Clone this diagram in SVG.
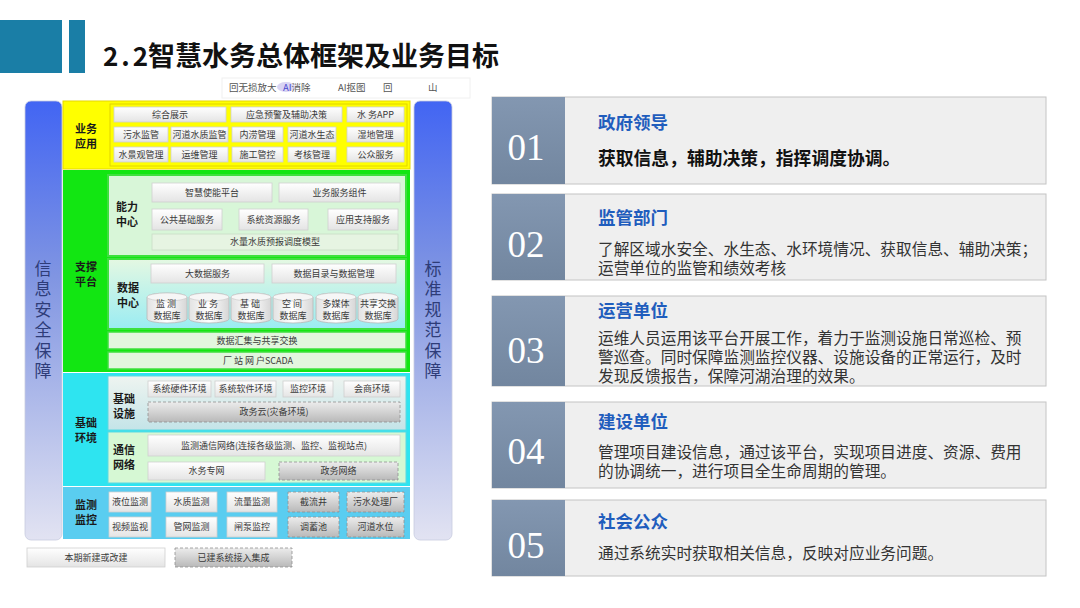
<svg xmlns="http://www.w3.org/2000/svg" width="1080" height="608" viewBox="0 0 1080 608">
<defs>
<linearGradient id="gW" x1="0" y1="0" x2="0" y2="1"><stop offset="0" stop-color="#ffffff"/><stop offset="1" stop-color="#e4e4e4"/></linearGradient>
<linearGradient id="gG" x1="0" y1="0" x2="0" y2="1"><stop offset="0" stop-color="#ececec"/><stop offset="1" stop-color="#b9b9b9"/></linearGradient>
<linearGradient id="gBar" x1="0" y1="0" x2="0" y2="1"><stop offset="0" stop-color="#4265f3"/><stop offset="0.4" stop-color="#8095e2"/><stop offset="1" stop-color="#e2e3f2"/></linearGradient>
<linearGradient id="gData" x1="0" y1="0" x2="0" y2="1"><stop offset="0" stop-color="#e4f8e2"/><stop offset="1" stop-color="#9aecf2"/></linearGradient>
<linearGradient id="gInfra" x1="0" y1="0" x2="0" y2="1"><stop offset="0" stop-color="#eef4f0"/><stop offset="1" stop-color="#c4e4e8"/></linearGradient>
<linearGradient id="gCyl" x1="0" y1="0" x2="1" y2="0"><stop offset="0" stop-color="#e2e2e2"/><stop offset="0.5" stop-color="#ffffff"/><stop offset="1" stop-color="#d6d6d6"/></linearGradient>
<linearGradient id="gSlate" x1="0" y1="0" x2="0" y2="1"><stop offset="0" stop-color="#8397b1"/><stop offset="1" stop-color="#72869f"/></linearGradient>
<style>
.cjk{font-family:"Noto Sans CJK SC","Liberation Sans",sans-serif}
.wb{fill:url(#gW);stroke:#cfcfcf;stroke-width:0.8}
.gb{fill:url(#gG);stroke:#8f8f8f;stroke-width:0.8;stroke-dasharray:3 2}
.t9{font-family:"Noto Sans CJK SC","Liberation Sans",sans-serif;font-size:9px;fill:#3a3a3a;text-anchor:middle}
.lab{font-family:"Noto Sans CJK SC","Liberation Sans",sans-serif;font-size:11px;fill:#1a1a1a;font-weight:700;text-anchor:middle}
.sub{font-family:"Noto Sans CJK SC","Liberation Sans",sans-serif;font-size:11px;fill:#1a1a1a;font-weight:700}
.vt{font-family:"Noto Sans CJK SC","Liberation Sans",sans-serif;font-size:17px;fill:#2e3c78;writing-mode:vertical-rl;letter-spacing:3.4px}
.pan{fill:#efefef;stroke:#c4c4c4;stroke-width:1}
.num{font-family:"Liberation Serif",serif;font-size:37px;fill:#ffffff;text-anchor:middle}
.ptit{font-family:"Noto Sans CJK SC","Liberation Sans",sans-serif;font-size:17.5px;fill:#1f5dbd;font-weight:700}
.pbody{font-family:"Noto Sans CJK SC","Liberation Sans",sans-serif;font-size:15.7px;fill:#333333}
.tb{font-family:"Noto Sans CJK SC","Liberation Sans",sans-serif;font-size:9.5px;fill:#555555}
.cyl{fill:url(#gCyl);stroke:#b8b8b8;stroke-width:0.8}
</style>
</defs>
<rect width="1080" height="608" fill="#ffffff"/>

<g id="header">
<rect x="0" y="20" width="62" height="53" fill="#1a7ea6"/>
<rect x="69" y="20" width="16" height="53" fill="#1a7ea6"/>
<text x="103" y="66" class="cjk" font-size="26" font-weight="700" fill="#111111"><tspan letter-spacing="3">2.2</tspan><tspan x="148" font-size="27">智慧水务总体框架及业务目标</tspan></text>
</g>

<g id="toolbar">
<rect x="222" y="78" width="248" height="20" fill="#ffffff" stroke="#f0f0f0"/>
<text x="229" y="91" class="tb">回无损放大</text>
<ellipse cx="286" cy="87" rx="9" ry="5" fill="#c9c2ee" opacity="0.7"/>
<text x="283" y="91" class="tb"><tspan fill="#4a4ad0">AI</tspan>消除</text>
<text x="338" y="91" class="tb">AI抠图</text>
<text x="383" y="91" class="tb">回</text>
<text x="428" y="91" class="tb">山</text>
</g>

<g id="bar-left">
<rect x="25" y="101" width="37" height="439" rx="6" fill="url(#gBar)" stroke="#c8cbe0" stroke-width="0.8"/>
<text x="43" y="260" class="vt">信息安全保障</text>
</g>
<g id="bar-right">
<rect x="414" y="101" width="38" height="439" rx="6" fill="url(#gBar)" stroke="#c8cbe0" stroke-width="0.8"/>
<text x="433" y="260" class="vt">标准规范保障</text>
</g>

<g id="layer-app">
<rect x="63" y="101" width="347" height="68" fill="#ffff00" stroke="#e6d800" stroke-width="1"/>
<rect x="110" y="104" width="297" height="62" fill="#ffff00" stroke="#e2d400" stroke-width="1"/>
<text class="lab"><tspan x="86" y="133">业务</tspan><tspan x="86" y="148">应用</tspan></text>
<rect x="114" y="107" width="112" height="15" class="wb"/><text x="170" y="117.5" class="t9">综合展示</text>
<rect x="231" y="107" width="111" height="15" class="wb"/><text x="286.5" y="117.5" class="t9">应急预警及辅助决策</text>
<rect x="347" y="107" width="57" height="15" class="wb"/><text x="375.5" y="117.5" class="t9" font-size="7.5">水 务APP</text>
<rect x="114" y="127" width="54" height="15" class="wb"/><text x="141" y="137.5" class="t9">污水监管</text>
<rect x="171" y="127" width="57" height="15" class="wb"/><text x="199.5" y="137.5" class="t9">河道水质监管</text>
<rect x="232" y="127" width="51" height="15" class="wb"/><text x="257.5" y="137.5" class="t9">内涝管理</text>
<rect x="288" y="127" width="48" height="15" class="wb"/><text x="312" y="137.5" class="t9">河道水生态</text>
<rect x="347" y="127" width="57" height="15" class="wb"/><text x="375.5" y="137.5" class="t9">湿地管理</text>
<rect x="114" y="147" width="54" height="15" class="wb"/><text x="141" y="157.5" class="t9">水景观管理</text>
<rect x="171" y="147" width="57" height="15" class="wb"/><text x="199.5" y="157.5" class="t9">运维管理</text>
<rect x="232" y="147" width="51" height="15" class="wb"/><text x="257.5" y="157.5" class="t9">施工管控</text>
<rect x="288" y="147" width="48" height="15" class="wb"/><text x="312" y="157.5" class="t9">考核管理</text>
<rect x="347" y="147" width="57" height="15" class="wb"/><text x="375.5" y="157.5" class="t9">公众服务</text>
</g>

<g id="layer-support">
<rect x="63" y="170" width="347" height="202" fill="#12e612"/>
<text class="lab"><tspan x="86" y="271">支撑</tspan><tspan x="86" y="286">平台</tspan></text>
<g id="capability">
<rect x="108" y="175" width="298" height="81" fill="#d8f6d8" stroke="#3ee03e" stroke-width="2"/>
<text class="sub"><tspan x="116" y="211">能力</tspan><tspan x="116" y="226">中心</tspan></text>
<rect x="152" y="183" width="120" height="19" class="wb"/><text x="212" y="195.5" class="t9">智慧使能平台</text>
<rect x="279" y="183" width="121" height="19" class="wb"/><text x="339.5" y="195.5" class="t9">业务服务组件</text>
<rect x="152" y="209" width="70" height="21" class="wb"/><text x="187" y="222.5" class="t9">公共基础服务</text>
<rect x="239" y="209" width="69" height="21" class="wb"/><text x="273.5" y="222.5" class="t9">系统资源服务</text>
<rect x="328" y="209" width="70" height="21" class="wb"/><text x="363" y="222.5" class="t9">应用支持服务</text>
<rect x="152" y="234" width="246" height="16" fill="#e6f4e2" stroke="#c8dcc6" stroke-width="0.8"/><text x="275" y="245" class="t9">水量水质预报调度模型</text>
</g>
<g id="datacenter">
<rect x="108" y="259" width="298" height="70" fill="url(#gData)" stroke="#3ee03e" stroke-width="2"/>
<text class="sub"><tspan x="117" y="292">数据</tspan><tspan x="117" y="307">中心</tspan></text>
<rect x="151" y="264" width="113" height="19" class="wb"/><text x="207.5" y="276.5" class="t9">大数据服务</text>
<rect x="272" y="264" width="124" height="19" class="wb"/><text x="334" y="276.5" class="t9">数据目录与数据管理</text>
<path class="cyl" d="M147,297 a20,4 0 0 1 40,0 v22 a20,4 0 0 1 -40,0 z"/><ellipse cx="167" cy="297" rx="20" ry="4" fill="#f6f6f6" stroke="#c4c4c4" stroke-width="0.6"/>
<text class="t9" font-size="8.5"><tspan x="167" y="307" letter-spacing="2">监测</tspan><tspan x="167" y="319">数据库</tspan></text>
<path class="cyl" d="M189,297 a20,4 0 0 1 40,0 v22 a20,4 0 0 1 -40,0 z"/><ellipse cx="209" cy="297" rx="20" ry="4" fill="#f6f6f6" stroke="#c4c4c4" stroke-width="0.6"/>
<text class="t9" font-size="8.5"><tspan x="209" y="307" letter-spacing="2">业务</tspan><tspan x="209" y="319">数据库</tspan></text>
<path class="cyl" d="M231,297 a20,4 0 0 1 40,0 v22 a20,4 0 0 1 -40,0 z"/><ellipse cx="251" cy="297" rx="20" ry="4" fill="#f6f6f6" stroke="#c4c4c4" stroke-width="0.6"/>
<text class="t9" font-size="8.5"><tspan x="251" y="307" letter-spacing="2">基础</tspan><tspan x="251" y="319">数据库</tspan></text>
<path class="cyl" d="M273,297 a20,4 0 0 1 40,0 v22 a20,4 0 0 1 -40,0 z"/><ellipse cx="293" cy="297" rx="20" ry="4" fill="#f6f6f6" stroke="#c4c4c4" stroke-width="0.6"/>
<text class="t9" font-size="8.5"><tspan x="293" y="307" letter-spacing="2">空间</tspan><tspan x="293" y="319">数据库</tspan></text>
<path class="cyl" d="M316,297 a20,4 0 0 1 40,0 v22 a20,4 0 0 1 -40,0 z"/><ellipse cx="336" cy="297" rx="20" ry="4" fill="#f6f6f6" stroke="#c4c4c4" stroke-width="0.6"/>
<text class="t9" font-size="8.5"><tspan x="336" y="307">多媒体</tspan><tspan x="336" y="319">数据库</tspan></text>
<path class="cyl" d="M358,297 a20,4 0 0 1 40,0 v22 a20,4 0 0 1 -40,0 z"/><ellipse cx="378" cy="297" rx="20" ry="4" fill="#f6f6f6" stroke="#c4c4c4" stroke-width="0.6"/>
<text class="t9" font-size="8.5"><tspan x="378" y="307">共享交换</tspan><tspan x="378" y="319">数据库</tspan></text>
</g>
<g id="exchange">
<rect x="108" y="332" width="298" height="17" fill="#e2f6de" stroke="#3ee03e" stroke-width="1.5"/>
<text x="257" y="344" class="t9">数据汇集与共享交换</text>
</g>
<g id="scada">
<rect x="108" y="352" width="298" height="17" fill="#e2f6de" stroke="#3ee03e" stroke-width="1.5"/>
<text x="258" y="364" class="t9" font-size="8">厂 站 网 户SCADA</text>
</g>
</g>

<g id="layer-infra">
<rect x="63" y="373" width="347" height="113" fill="#2ee4f0"/>
<text class="lab"><tspan x="86" y="427">基础</tspan><tspan x="86" y="442">环境</tspan></text>
<g id="facility">
<rect x="108" y="376" width="298" height="54" fill="url(#gInfra)" stroke="#5ed8e0" stroke-width="1"/>
<text class="sub"><tspan x="113" y="403">基础</tspan><tspan x="113" y="418">设施</tspan></text>
<rect x="148" y="381" width="63" height="16" class="wb"/><text x="179.5" y="392" class="t9">系统硬件环境</text>
<rect x="215" y="381" width="61" height="16" class="wb"/><text x="245.5" y="392" class="t9">系统软件环境</text>
<rect x="283" y="381" width="50" height="16" class="wb"/><text x="308" y="392" class="t9">监控环境</text>
<rect x="344" y="381" width="56" height="16" class="wb"/><text x="372" y="392" class="t9">会商环境</text>
<rect x="148" y="402" width="252" height="20" class="gb"/><text x="274" y="415" class="t9">政务云(灾备环境)</text>
</g>
<g id="network">
<rect x="108" y="432" width="298" height="51" fill="#d6f8d4" stroke="#5ed8e0" stroke-width="1"/>
<text class="sub"><tspan x="113" y="454">通信</tspan><tspan x="113" y="469">网络</tspan></text>
<rect x="148" y="435" width="252" height="21" class="wb"/><text x="274" y="448.5" class="t9">监测通信网络(连接各级监测、监控、监视站点)</text>
<rect x="148" y="462" width="117" height="18" class="wb"/><text x="206.5" y="474" class="t9">水务专网</text>
<rect x="279" y="462" width="119" height="18" class="gb"/><text x="338.5" y="474" class="t9">政务网络</text>
</g>
</g>

<g id="layer-monitor">
<rect x="63" y="487" width="347" height="52" fill="#5acdf0"/>
<text class="lab"><tspan x="86" y="509">监测</tspan><tspan x="86" y="524">监控</tspan></text>
<rect x="109" y="492" width="42" height="20" class="wb"/><text x="130" y="505" class="t9">液位监测</text>
<rect x="166" y="492" width="51" height="20" class="wb"/><text x="191.5" y="505" class="t9">水质监测</text>
<rect x="227" y="492" width="50" height="20" class="wb"/><text x="252" y="505" class="t9">流量监测</text>
<rect x="288" y="492" width="51" height="20" class="gb"/><text x="313.5" y="505" class="t9">截流井</text>
<rect x="347" y="492" width="57" height="20" class="gb"/><text x="375.5" y="505" class="t9">污水处理厂</text>
<rect x="109" y="517" width="42" height="20" class="wb"/><text x="130" y="530" class="t9">视频监视</text>
<rect x="166" y="517" width="51" height="20" class="wb"/><text x="191.5" y="530" class="t9">管网监测</text>
<rect x="227" y="517" width="50" height="20" class="wb"/><text x="252" y="530" class="t9">闸泵监控</text>
<rect x="288" y="517" width="51" height="20" class="gb"/><text x="313.5" y="530" class="t9">调蓄池</text>
<rect x="347" y="517" width="57" height="20" class="gb"/><text x="375.5" y="530" class="t9">河道水位</text>
</g>

<g id="legend">
<rect x="27" y="548" width="138" height="19" class="wb"/><text x="96" y="561" class="t9">本期新建或改建</text>
<rect x="175" y="548" width="117" height="19" class="gb"/><text x="233.5" y="561" class="t9">已建系统接入集成</text>
</g>

<g id="panel-01">
<rect x="492" y="97" width="554" height="87" class="pan"/>
<rect x="492" y="97" width="73" height="87" fill="url(#gSlate)"/>
<text x="526" y="160" class="num">01</text>
<text x="598" y="129" class="ptit">政府领导</text>
<text x="598" y="165" class="cjk" font-size="17.8" font-weight="700" fill="#111111">获取信息，辅助决策，指挥调度协调。</text>
</g>
<g id="panel-02">
<rect x="492" y="194" width="554" height="86" class="pan"/>
<rect x="492" y="194" width="73" height="86" fill="url(#gSlate)"/>
<text x="526" y="257" class="num">02</text>
<text x="598" y="224" class="ptit">监管部门</text>
<text class="pbody"><tspan x="598" y="254.5">了解区域水安全、水生态、水环境情况、获取信息、辅助决策；</tspan><tspan x="598" y="273.5">运营单位的监管和绩效考核</tspan></text>
</g>
<g id="panel-03">
<rect x="492" y="296" width="554" height="90" class="pan"/>
<rect x="492" y="296" width="73" height="90" fill="url(#gSlate)"/>
<text x="526" y="363" class="num">03</text>
<text x="598" y="317" class="ptit">运营单位</text>
<text class="pbody"><tspan x="598" y="343.5">运维人员运用该平台开展工作，着力于监测设施日常巡检、预</tspan><tspan x="598" y="362.5">警巡查。同时保障监测监控仪器、设施设备的正常运行，及时</tspan><tspan x="598" y="382">发现反馈报告，保障河湖治理的效果。</tspan></text>
</g>
<g id="panel-04">
<rect x="492" y="402" width="554" height="86" class="pan"/>
<rect x="492" y="402" width="73" height="86" fill="url(#gSlate)"/>
<text x="526" y="464" class="num">04</text>
<text x="598" y="428" class="ptit">建设单位</text>
<text class="pbody"><tspan x="598" y="457.5">管理项目建设信息，通过该平台，实现项目进度、资源、费用</tspan><tspan x="598" y="476.5">的协调统一，进行项目全生命周期的管理。</tspan></text>
</g>
<g id="panel-05">
<rect x="492" y="500" width="554" height="76" class="pan"/>
<rect x="492" y="500" width="73" height="76" fill="url(#gSlate)"/>
<text x="526" y="558" class="num">05</text>
<text x="598" y="528" class="ptit">社会公众</text>
<text x="598" y="558.5" class="pbody">通过系统实时获取相关信息，反映对应业务问题。</text>
</g>
<g id="connectors"/>
</svg>
